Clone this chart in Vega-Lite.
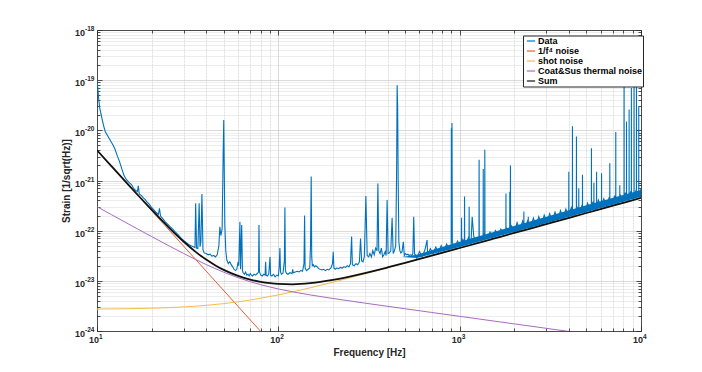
{
  "$schema": "https://vega.github.io/schema/vega-lite/v6.json",
  "width": 544,
  "height": 301,
  "autosize": {"type": "none"},
  "padding": {"left": 97, "top": 30, "right": 61, "bottom": 41},
  "background": "white",
  "config": {
    "view": {"stroke": null},
    "font": "Liberation Sans",
    "legend": {
      "orient": "none", "legendX": 426, "legendY": 5.5, "title": null,
      "fillColor": "white", "strokeColor": "#262626", "padding": 0.5,
      "symbolType": "stroke", "symbolSize": 67, "symbolStrokeWidth": 1.2, "symbolOffset": 2.5,
      "labelFontSize": 9, "labelFontWeight": "bold", "labelColor": "#000000",
      "rowPadding": 0, "labelOffset": 2, "cornerRadius": 0
    }
  },
  "datasets": {
    "band": [
      {"f":480,"lo":3.0e-23,"hi":3.0e-23},{"f":580,"lo":2.85e-23,"hi":3.3e-23},{"f":1000,"lo":4.74e-23,"hi":6.0e-23},{"f":2000,"lo":9.45e-23,"hi":1.24e-22},{"f":5000,"lo":2.36e-22,"hi":3.2e-22},{"f":10000,"lo":4.73e-22,"hi":6.5e-22}
    ],
    "data": [
      {"f":10,"v":9.5e-20},{"f":10.1,"v":7e-20},{"f":10.2,"v":4.5e-20},{"f":10.35,"v":2.8e-20},{"f":10.5,"v":2.2e-20},{"f":10.7,"v":1.6e-20},{"f":10.9,"v":1.2e-20},{"f":11.1,"v":9.5e-21},{"f":11.4,"v":8e-21},{"f":11.7,"v":6.8e-21},{"f":12,"v":5.8e-21},{"f":12.3,"v":5e-21},{"f":12.6,"v":4.1e-21},{"f":12.9,"v":3.2e-21},{"f":13.3,"v":2.4e-21},{"f":13.7,"v":1.7e-21},{"f":14.1,"v":1.25e-21},{"f":14.5,"v":1.05e-21},{"f":15,"v":9.2e-22},{"f":15.5,"v":8.3e-22},{"f":15.9,"v":7e-22},{"f":16.3,"v":6.4e-22},{"f":16.7,"v":6e-22},{"f":16.9,"v":7.8e-22},{"f":17.1,"v":5.4e-22},{"f":17.6,"v":5e-22},{"f":18,"v":4.5e-22},{"f":18.4,"v":4.2e-22},{"f":18.9,"v":3.7e-22},{"f":19.5,"v":3.3e-22},{"f":20,"v":2.9e-22},{"f":20.6,"v":2.6e-22},{"f":21.2,"v":2.3e-22},{"f":21.8,"v":2.1e-22},{"f":22.1,"v":2.8e-22},{"f":22.4,"v":1.95e-22},{"f":23,"v":1.75e-22},{"f":23.8,"v":1.5e-22},{"f":24.5,"v":1.35e-22},{"f":25.3,"v":1.2e-22},{"f":26,"v":1.1e-22},{"f":27,"v":9.5e-23},{"f":28,"v":8.3e-23},{"f":29,"v":7.2e-23},{"f":30,"v":6.4e-23},{"f":31,"v":5.8e-23},{"f":32,"v":5.3e-23},{"f":33,"v":5e-23},{"f":34,"v":4.8e-23},{"f":34.7,"v":4.6e-23},{"f":35,"v":3.5e-22},{"f":35.4,"v":4.5e-23},{"f":36,"v":4.4e-23},{"f":36.6,"v":3.5e-22},{"f":37,"v":4.8e-23},{"f":37.4,"v":6e-23},{"f":37.9,"v":5.4e-22},{"f":38.4,"v":4.2e-23},{"f":39,"v":3.6e-23},{"f":40,"v":3.5e-23},{"f":41,"v":3.3e-23},{"f":42,"v":3.4e-23},{"f":43,"v":3.1e-23},{"f":44,"v":3.2e-23},{"f":45,"v":3e-23},{"f":46,"v":3.3e-23},{"f":47,"v":5e-23},{"f":47.6,"v":1.2e-22},{"f":48.2,"v":8e-23},{"f":49,"v":1.1e-22},{"f":49.6,"v":3e-21},{"f":50,"v":1.6e-20},{"f":50.3,"v":2e-21},{"f":50.7,"v":1.3e-22},{"f":51.3,"v":4e-23},{"f":52,"v":2.6e-23},{"f":53,"v":2.2e-23},{"f":54,"v":2.4e-23},{"f":55,"v":2.1e-23},{"f":56,"v":1.9e-23},{"f":57,"v":1.7e-23},{"f":58,"v":1.6e-23},{"f":59,"v":1.7e-23},{"f":60,"v":2.4e-23},{"f":60.5,"v":2e-23},{"f":61.4,"v":1.5e-22},{"f":61.9,"v":1.7e-23},{"f":62.8,"v":1.3e-22},{"f":63.4,"v":1.6e-23},{"f":64,"v":1.45e-23},{"f":65,"v":1.35e-23},{"f":66,"v":1.5e-23},{"f":67,"v":1.3e-23},{"f":68,"v":1.35e-23},{"f":69,"v":1.25e-23},{"f":70,"v":1.4e-23},{"f":71,"v":1.3e-23},{"f":72,"v":1.25e-23},{"f":73.5,"v":1.35e-23},{"f":75,"v":1.3e-23},{"f":76.5,"v":1.4e-23},{"f":77.8,"v":1.5e-23},{"f":78.2,"v":1.3e-22},{"f":78.7,"v":1.5e-23},{"f":80,"v":1.3e-23},{"f":81.5,"v":1.25e-23},{"f":83,"v":1.35e-23},{"f":84.5,"v":1.3e-23},{"f":85.1,"v":2.4e-23},{"f":85.7,"v":1.3e-23},{"f":87,"v":1.25e-23},{"f":88.5,"v":1.35e-23},{"f":90,"v":3e-23},{"f":90.6,"v":1.3e-23},{"f":92,"v":1.25e-23},{"f":94,"v":1.35e-23},{"f":96,"v":1.2e-23},{"f":98,"v":1.3e-23},{"f":100,"v":1.25e-23},{"f":101.2,"v":2e-23},{"f":102,"v":4.5e-23},{"f":102.8,"v":1.5e-23},{"f":104,"v":1.35e-23},{"f":106,"v":1.4e-23},{"f":108,"v":2.5e-23},{"f":108.7,"v":2.9e-22},{"f":109.4,"v":1.6e-23},{"f":111,"v":1.4e-23},{"f":113,"v":1.35e-23},{"f":116,"v":1.45e-23},{"f":119,"v":1.4e-23},{"f":120,"v":1.7e-23},{"f":121,"v":1.45e-23},{"f":124,"v":1.5e-23},{"f":127,"v":1.55e-23},{"f":130,"v":1.5e-23},{"f":133,"v":1.6e-23},{"f":136,"v":1.55e-23},{"f":138.5,"v":2.2e-23},{"f":139.6,"v":2e-22},{"f":140.5,"v":1.8e-23},{"f":143,"v":1.6e-23},{"f":146,"v":1.7e-23},{"f":149,"v":1.8e-23},{"f":150.5,"v":5e-23},{"f":151.8,"v":1.2e-21},{"f":152.8,"v":3e-23},{"f":154,"v":2e-23},{"f":156,"v":2.1e-23},{"f":158,"v":1.9e-23},{"f":161,"v":2e-23},{"f":164,"v":1.9e-23},{"f":167,"v":1.75e-23},{"f":170,"v":1.7e-23},{"f":174,"v":1.65e-23},{"f":178,"v":1.7e-23},{"f":182,"v":1.6e-23},{"f":186,"v":1.7e-23},{"f":190,"v":1.65e-23},{"f":195,"v":1.8e-23},{"f":199,"v":2.2e-23},{"f":200.8,"v":3.8e-23},{"f":202.5,"v":1.8e-23},{"f":206,"v":1.7e-23},{"f":210,"v":1.8e-23},{"f":215,"v":1.75e-23},{"f":220,"v":1.85e-23},{"f":225,"v":1.8e-23},{"f":230,"v":1.9e-23},{"f":235,"v":1.85e-23},{"f":240,"v":2e-23},{"f":245,"v":1.9e-23},{"f":250,"v":2.2e-23},{"f":253.6,"v":7.6e-23},{"f":256,"v":2.1e-23},{"f":262,"v":2e-23},{"f":268,"v":2.2e-23},{"f":274,"v":2.1e-23},{"f":280,"v":2.4e-23},{"f":284,"v":7e-23},{"f":288,"v":2.5e-23},{"f":293,"v":2.4e-23},{"f":298,"v":3e-23},{"f":304,"v":4.9e-22},{"f":309,"v":3.2e-23},{"f":315,"v":3e-23},{"f":320,"v":3.5e-23},{"f":326,"v":3e-23},{"f":332,"v":4e-23},{"f":338,"v":3.3e-23},{"f":344,"v":4.5e-23},{"f":350,"v":4e-23},{"f":354,"v":8.7e-22},{"f":358,"v":4e-23},{"f":364,"v":3.5e-23},{"f":370,"v":4.5e-23},{"f":376,"v":3e-23},{"f":382,"v":3.3e-23},{"f":388,"v":3.8e-23},{"f":393,"v":3.2e-23},{"f":398,"v":4.1e-22},{"f":403,"v":3.5e-23},{"f":410,"v":3.6e-23},{"f":417,"v":4e-23},{"f":424,"v":1.8e-22},{"f":430,"v":3.5e-23},{"f":437,"v":4e-23},{"f":444,"v":5e-23},{"f":449,"v":1.5e-21},{"f":452,"v":7.9e-20},{"f":455,"v":3e-20},{"f":458,"v":1e-21},{"f":462,"v":6e-23},{"f":468,"v":4e-23},{"f":474,"v":3.6e-23},{"f":481,"v":3.8e-23},{"f":489,"v":6e-23},{"f":495,"v":3.2e-23},{"f":502,"v":3.5e-23},{"f":510,"v":3.3e-23},{"f":518,"v":3.4e-23},{"f":526,"v":3.2e-23},{"f":535,"v":3.3e-23},{"f":545,"v":3.2e-23},{"f":552,"v":3.5e-23},{"f":558,"v":1.9e-22},{"f":564,"v":3.4e-23},{"f":572,"v":3.3e-23},
      {"f":580,"v":2.82e-23},{"f":600,"v":3.83e-23},{"f":621,"v":3.02e-23},{"f":643,"v":4.11e-23},{"f":661,"v":6.5e-23},{"f":666,"v":3.24e-23},{"f":689,"v":4.4e-23},{"f":713,"v":3.47e-23},{"f":738,"v":4.72e-23},{"f":764,"v":3.71e-23},{"f":791,"v":5.05e-23},{"f":819,"v":3.98e-23},{"f":847,"v":5.41e-23},{"f":877,"v":4.26e-23},{"f":898,"v":4.85e-23},{"f":900,"v":1.1e-20},{"f":903,"v":2e-21},{"f":907,"v":1.4e-20},{"f":911,"v":5.8e-23},{"f":940,"v":4.57e-23},{"f":973,"v":6.22e-23},{"f":1007,"v":4.89e-23},{"f":1022,"v":5.5e-23},{"f":1024,"v":1.8e-22},{"f":1026,"v":5.5e-23},{"f":1042,"v":6.66e-23},{"f":1062,"v":5.7e-23},{"f":1064,"v":4.8e-22},{"f":1066,"v":5.7e-23},{"f":1079,"v":5.24e-23},{"f":1116,"v":7.13e-23},{"f":1126,"v":6.1e-23},{"f":1128,"v":3e-22},{"f":1130,"v":6.1e-23},{"f":1155,"v":5.61e-23},{"f":1172,"v":1.9e-22},{"f":1196,"v":7.64e-23},{"f":1238,"v":6.02e-23},{"f":1278,"v":6.9e-23},{"f":1280,"v":2.6e-21},{"f":1283,"v":6.9e-23},{"f":1326,"v":6.44e-23},{"f":1347,"v":7.3e-23},{"f":1349,"v":1.7e-21},{"f":1351,"v":7.3e-23},{"f":1372,"v":8.77e-23},{"f":1374,"v":7.4e-23},{"f":1376,"v":4.1e-21},{"f":1379,"v":7.4e-23},{"f":1420,"v":6.9e-23},{"f":1470,"v":9.39e-23},{"f":1522,"v":7.4e-23},{"f":1575,"v":1.007e-22},{"f":1630,"v":7.92e-23},{"f":1687,"v":1.078e-22},{"f":1746,"v":8.49e-23},{"f":1798,"v":9.7e-23},{"f":1800,"v":5.5e-22},{"f":1802,"v":9.7e-23},{"f":1807,"v":1.155e-22},{"f":1871,"v":9.09e-23},{"f":1888,"v":1.02e-22},{"f":1890,"v":6e-22},{"f":1892,"v":1.02e-22},{"f":1904,"v":1.03e-22},{"f":1906,"v":2e-21},{"f":1909,"v":1.03e-22},{"f":1936,"v":1.237e-22},{"f":2004,"v":9.47e-23},{"f":2074,"v":1.446e-22},{"f":2147,"v":1.014e-22},{"f":2222,"v":1.55e-22},{"f":2257,"v":1.22e-22},{"f":2260,"v":2.4e-22},{"f":2263,"v":1.22e-22},{"f":2300,"v":1.087e-22},{"f":2380,"v":1.66e-22},{"f":2387,"v":1.29e-22},{"f":2390,"v":1.9e-22},{"f":2393,"v":1.29e-22},{"f":2464,"v":1.164e-22},{"f":2550,"v":1.779e-22},{"f":2639,"v":1.247e-22},{"f":2731,"v":1.905e-22},{"f":2827,"v":1.336e-22},{"f":2926,"v":2.041e-22},{"f":3028,"v":1.431e-22},{"f":3134,"v":2.186e-22},{"f":3244,"v":1.533e-22},{"f":3357,"v":2.342e-22},{"f":3475,"v":1.642e-22},{"f":3596,"v":2.508e-22},{"f":3722,"v":1.759e-22},{"f":3853,"v":2.688e-22},{"f":3988,"v":1.885e-22},{"f":3995,"v":2.16e-22},{"f":3999,"v":1.5e-21},{"f":4003,"v":2.16e-22},{"f":4127,"v":2.878e-22},{"f":4184,"v":2.26e-22},{"f":4188,"v":1.2e-20},{"f":4192,"v":2.26e-22},{"f":4272,"v":2.018e-22},{"f":4402,"v":2.38e-22},{"f":4406,"v":7.5e-21},{"f":4410,"v":2.38e-22},{"f":4421,"v":3.083e-22},{"f":4534,"v":2.45e-22},{"f":4538,"v":7e-22},{"f":4542,"v":2.45e-22},{"f":4576,"v":2.162e-22},{"f":4736,"v":3.303e-22},{"f":4753,"v":2.57e-22},{"f":4757,"v":1.3e-21},{"f":4761,"v":2.57e-22},{"f":4902,"v":2.316e-22},{"f":5073,"v":3.539e-22},{"f":5251,"v":2.481e-22},{"f":5325,"v":2.88e-22},{"f":5329,"v":4.4e-21},{"f":5333,"v":2.88e-22},{"f":5435,"v":3.791e-22},{"f":5496,"v":2.97e-22},{"f":5500,"v":9e-22},{"f":5504,"v":2.97e-22},{"f":5625,"v":2.658e-22},{"f":5686,"v":3.07e-22},{"f":5690,"v":1.5e-21},{"f":5694,"v":3.07e-22},{"f":5822,"v":4.061e-22},{"f":6025,"v":2.847e-22},{"f":6056,"v":3.27e-22},{"f":6060,"v":1.4e-21},{"f":6064,"v":3.27e-22},{"f":6236,"v":4.349e-22},{"f":6454,"v":3.049e-22},{"f":6680,"v":4.659e-22},{"f":6726,"v":3.63e-22},{"f":6730,"v":2.2e-21},{"f":6734,"v":3.63e-22},{"f":6914,"v":3.267e-22},{"f":7156,"v":4.991e-22},{"f":7255,"v":3.92e-22},{"f":7260,"v":9.3e-21},{"f":7265,"v":3.92e-22},{"f":7407,"v":3.5e-22},{"f":7635,"v":4.13e-22},{"f":7640,"v":8e-22},{"f":7645,"v":4.13e-22},{"f":7666,"v":5.348e-22},{"f":7934,"v":3.749e-22},{"f":8065,"v":4.36e-22},{"f":8070,"v":1.6e-19},{"f":8075,"v":4.36e-22},{"f":8212,"v":5.727e-22},{"f":8315,"v":4.49e-22},{"f":8320,"v":1.5e-20},{"f":8325,"v":4.49e-22},{"f":8499,"v":4.016e-22},{"f":8595,"v":4.64e-22},{"f":8600,"v":2.6e-20},{"f":8605,"v":4.64e-22},{"f":8797,"v":6.136e-22},{"f":8845,"v":4.78e-22},{"f":8850,"v":7e-20},{"f":8855,"v":4.78e-22},{"f":9105,"v":4.302e-22},{"f":9155,"v":4.95e-22},{"f":9160,"v":1.2e-19},{"f":9165,"v":4.95e-22},{"f":9423,"v":6.572e-22},{"f":9435,"v":5.1e-22},{"f":9440,"v":1.1e-19},{"f":9445,"v":5.1e-22},{"f":9715,"v":5.25e-22},{"f":9720,"v":3e-20},{"f":9725,"v":5.25e-22},{"f":9753,"v":4.608e-22},{"f":10000,"v":6.975e-22}
    ],
    "f4": [
      {"f":10,"v":4e-21},{"f":20,"v":2.5e-22},{"f":40,"v":1.5625e-23},{"f":60,"v":3.086e-24},{"f":80,"v":9.77e-25},{"f":100,"v":4e-25}
    ],
    "shot": [
      {"f":10,"v":2.737e-24},{"f":15,"v":2.783e-24},{"f":20,"v":2.846e-24},{"f":25,"v":2.925e-24},{"f":30,"v":3.019e-24},{"f":40,"v":3.245e-24},{"f":50,"v":3.515e-24},{"f":60,"v":3.818e-24},{"f":70,"v":4.149e-24},{"f":80,"v":4.5e-24},{"f":100,"v":5.248e-24},{"f":120,"v":6.037e-24},{"f":150,"v":7.27e-24},{"f":200,"v":9.397e-24},{"f":300,"v":1.377e-23},{"f":500,"v":2.266e-23},{"f":700,"v":3.161e-23},{"f":1000,"v":4.508e-23},{"f":2000,"v":9.005e-23},{"f":5000,"v":2.25e-22},{"f":10000,"v":4.5e-22}
    ],
    "therm": [
      {"f":10,"v":3.006e-22},{"f":12,"v":2.091e-22},{"f":15,"v":1.343e-22},{"f":20,"v":7.627e-23},{"f":25,"v":4.958e-23},{"f":30,"v":3.52e-23},{"f":40,"v":2.116e-23},{"f":50,"v":1.486e-23},{"f":60,"v":1.156e-23},{"f":70,"v":9.61e-24},{"f":80,"v":8.37e-24},{"f":100,"v":6.888e-24},{"f":150,"v":5.235e-24},{"f":200,"v":4.448e-24},{"f":300,"v":3.595e-24},{"f":500,"v":2.776e-24},{"f":700,"v":2.343e-24},{"f":1000,"v":1.961e-24},{"f":2000,"v":1.386e-24},{"f":3000,"v":1.132e-24},{"f":4000,"v":9.8e-25},{"f":5000,"v":8.77e-25}
    ],
    "sum": [
      {"f":10,"v":4.011e-21},{"f":12,"v":1.94e-21},{"f":15,"v":8.013e-22},{"f":17.5,"v":4.378e-22},{"f":20,"v":2.614e-22},{"f":25,"v":1.138e-22},{"f":30,"v":6.073e-23},{"f":35,"v":3.78e-23},{"f":40,"v":2.65e-23},{"f":45,"v":2.03e-23},{"f":50,"v":1.654e-23},{"f":60,"v":1.256e-23},{"f":70,"v":1.06e-23},{"f":80,"v":9.55e-24},{"f":90,"v":8.97e-24},{"f":100,"v":8.67e-24},{"f":120,"v":8.53e-24},{"f":150,"v":8.96e-24},{"f":200,"v":1.04e-23},{"f":300,"v":1.423e-23},{"f":400,"v":1.846e-23},{"f":500,"v":2.283e-23},{"f":700,"v":3.17e-23},{"f":1000,"v":4.512e-23},{"f":1500,"v":6.757e-23},{"f":2000,"v":9.006e-23},{"f":3000,"v":1.35e-22},{"f":5000,"v":2.25e-22},{"f":7000,"v":3.15e-22},{"f":10000,"v":4.5e-22}
    ]
  },
  "resolve": {"axis": {"x": "independent", "y": "independent"}},
  "layer": [
    {
      "data": {"name": "band"},
      "mark": {"type": "area", "clip": true, "color": "#0072BD"},
      "encoding": {
        "x": {"field": "f", "type": "quantitative", "axis": null},
        "y": {"field": "lo", "type": "quantitative", "axis": null},
        "y2": {"field": "hi"}
      }
    },
    {
      "data": {"name": "data"},
      "mark": {"type": "line", "clip": true, "strokeWidth": 1.1},
      "encoding": {
        "x": {"field": "f", "type": "quantitative",
          "scale": {"type": "log", "domain": [10, 10000], "nice": false},
          "axis": {"orient": "bottom",
            "tickValues": [10,20,30,40,50,60,70,80,90,100,200,300,400,500,600,700,800,900,1000,2000,3000,4000,5000,6000,7000,8000,9000,10000],
            "labelExpr": "abs(log(datum.value)/LN10 - round(log(datum.value)/LN10)) < 0.01 ? '10' : ''",
            "ticks": false, "tickSize": 0, "grid": true,
            "gridColor": {"condition": {"test": "abs(log(datum.value)/LN10 - round(log(datum.value)/LN10)) < 0.01", "value": "#cacaca"}, "value": "#d2d2d2"},
            "gridDash": {"condition": {"test": "abs(log(datum.value)/LN10 - round(log(datum.value)/LN10)) < 0.01", "value": []}, "value": [2, 1]},
            "gridWidth": 0.7,
            "domainColor": "#262626", "domainWidth": 0.8,
            "labelFontSize": 9, "labelFontWeight": "bold", "labelColor": "#262626",
            "labelAlign": "center", "labelOffset": -3.5,
            "labelPadding": 4, "labelFlush": false, "labelOverlap": false, "labelBound": false,
            "title": "Frequency [Hz]", "titleFontSize": 10, "titleFontWeight": "bold", "titleColor": "#262626", "titlePadding": 3}},
        "y": {"field": "v", "type": "quantitative",
          "scale": {"type": "log", "domain": [1e-24, 1e-18], "nice": false},
          "axis": {"orient": "left",
            "tickValues": [1e-24,2e-24,3e-24,4e-24,5e-24,6e-24,7e-24,8e-24,9e-24,1e-23,2e-23,3e-23,4e-23,5e-23,6e-23,7e-23,8e-23,9e-23,1e-22,2e-22,3e-22,4e-22,5e-22,6e-22,7e-22,8e-22,9e-22,1e-21,2e-21,3e-21,4e-21,5e-21,6e-21,7e-21,8e-21,9e-21,1e-20,2e-20,3e-20,4e-20,5e-20,6e-20,7e-20,8e-20,9e-20,1e-19,2e-19,3e-19,4e-19,5e-19,6e-19,7e-19,8e-19,9e-19,1e-18],
            "labelExpr": "abs(log(datum.value)/LN10 - round(log(datum.value)/LN10)) < 0.01 ? '10' : ''",
            "ticks": false, "tickSize": 0, "grid": true,
            "gridColor": {"condition": {"test": "abs(log(datum.value)/LN10 - round(log(datum.value)/LN10)) < 0.01", "value": "#cacaca"}, "value": "#cccccc"},
            "gridDash": {"condition": {"test": "abs(log(datum.value)/LN10 - round(log(datum.value)/LN10)) < 0.01", "value": []}, "value": [1, 1]},
            "gridWidth": 0.7,
            "domainColor": "#262626", "domainWidth": 0.8,
            "labelFontSize": 9, "labelFontWeight": "bold", "labelColor": "#262626",
            "labelOffset": 2.5,
            "labelPadding": 12.5, "labelFlush": false, "labelOverlap": false, "labelBound": false,
            "title": "Strain [1/sqrt(Hz)]", "titleFontSize": 10, "titleFontWeight": "bold", "titleColor": "#262626", "titlePadding": 3}},
        "color": {"datum": "Data", "type": "nominal",
          "scale": {"domain": ["Data", "1/f⁴ noise", "shot noise", "Coat&Sus thermal noise", "Sum"],
                    "range": ["#0072BD", "#E0603A", "#F0BE4A", "#A86BC0", "#111111"]}}
      }
    },
    {
      "data": {"name": "f4"},
      "mark": {"type": "line", "clip": true, "strokeWidth": 1},
      "encoding": {
        "x": {"field": "f", "type": "quantitative",
          "axis": {"orient": "bottom",
            "tickValues": [10,20,30,40,50,60,70,80,90,100,200,300,400,500,600,700,800,900,1000,2000,3000,4000,5000,6000,7000,8000,9000,10000],
            "labels": false, "grid": false, "domain": false, "ticks": true,
            "tickSize": {"condition": {"test": "abs(log(datum.value)/LN10 - round(log(datum.value)/LN10)) < 0.01", "value": -5}, "value": -3},
            "tickColor": "#262626", "tickWidth": 0.8, "title": null}},
        "y": {"field": "v", "type": "quantitative",
          "axis": {"orient": "left",
            "tickValues": [1e-24,2e-24,3e-24,4e-24,5e-24,6e-24,7e-24,8e-24,9e-24,1e-23,2e-23,3e-23,4e-23,5e-23,6e-23,7e-23,8e-23,9e-23,1e-22,2e-22,3e-22,4e-22,5e-22,6e-22,7e-22,8e-22,9e-22,1e-21,2e-21,3e-21,4e-21,5e-21,6e-21,7e-21,8e-21,9e-21,1e-20,2e-20,3e-20,4e-20,5e-20,6e-20,7e-20,8e-20,9e-20,1e-19,2e-19,3e-19,4e-19,5e-19,6e-19,7e-19,8e-19,9e-19,1e-18],
            "labels": false, "grid": false, "domain": false, "ticks": true,
            "tickSize": {"condition": {"test": "abs(log(datum.value)/LN10 - round(log(datum.value)/LN10)) < 0.01", "value": -5}, "value": -3},
            "tickColor": "#262626", "tickWidth": 0.8, "title": null}},
        "color": {"datum": "1/f⁴ noise", "type": "nominal"}
      }
    },
    {
      "data": {"name": "shot"},
      "mark": {"type": "line", "clip": true, "strokeWidth": 1, "interpolate": "monotone"},
      "encoding": {
        "x": {"field": "f", "type": "quantitative",
          "axis": {"orient": "top",
            "tickValues": [10,20,30,40,50,60,70,80,90,100,200,300,400,500,600,700,800,900,1000,2000,3000,4000,5000,6000,7000,8000,9000,10000],
            "labels": false, "grid": false, "domain": true, "domainColor": "#262626", "domainWidth": 0.8, "ticks": true,
            "tickSize": {"condition": {"test": "abs(log(datum.value)/LN10 - round(log(datum.value)/LN10)) < 0.01", "value": -5}, "value": -3},
            "tickColor": "#262626", "tickWidth": 0.8, "title": null}},
        "y": {"field": "v", "type": "quantitative",
          "axis": {"orient": "right",
            "tickValues": [1e-24,2e-24,3e-24,4e-24,5e-24,6e-24,7e-24,8e-24,9e-24,1e-23,2e-23,3e-23,4e-23,5e-23,6e-23,7e-23,8e-23,9e-23,1e-22,2e-22,3e-22,4e-22,5e-22,6e-22,7e-22,8e-22,9e-22,1e-21,2e-21,3e-21,4e-21,5e-21,6e-21,7e-21,8e-21,9e-21,1e-20,2e-20,3e-20,4e-20,5e-20,6e-20,7e-20,8e-20,9e-20,1e-19,2e-19,3e-19,4e-19,5e-19,6e-19,7e-19,8e-19,9e-19,1e-18],
            "labels": false, "grid": false, "domain": true, "domainColor": "#262626", "domainWidth": 0.8, "ticks": true,
            "tickSize": {"condition": {"test": "abs(log(datum.value)/LN10 - round(log(datum.value)/LN10)) < 0.01", "value": -5}, "value": -3},
            "tickColor": "#262626", "tickWidth": 0.8, "title": null}},
        "color": {"datum": "shot noise", "type": "nominal"}
      }
    },
    {
      "data": {"name": "therm"},
      "mark": {"type": "line", "clip": true, "strokeWidth": 1, "interpolate": "monotone"},
      "encoding": {
        "x": {"field": "f", "type": "quantitative",
          "axis": {"orient": "bottom",
            "tickValues": [10,20,30,40,50,60,70,80,90,100,200,300,400,500,600,700,800,900,1000,2000,3000,4000,5000,6000,7000,8000,9000,10000],
            "labelExpr": "abs(log(datum.value)/LN10 - round(log(datum.value)/LN10)) < 0.01 ? '' + round(log(datum.value)/LN10) : ''",
            "grid": false, "domain": false, "ticks": false, "tickSize": 0,
            "labelFontSize": 6.5, "labelFontWeight": "bold", "labelColor": "#262626",
            "labelAlign": "left", "labelOffset": 1.5, "labelPadding": 2,
            "labelFlush": false, "labelOverlap": false, "labelBound": false, "title": null}},
        "y": {"field": "v", "type": "quantitative",
          "axis": {"orient": "left",
            "tickValues": [1e-24,2e-24,3e-24,4e-24,5e-24,6e-24,7e-24,8e-24,9e-24,1e-23,2e-23,3e-23,4e-23,5e-23,6e-23,7e-23,8e-23,9e-23,1e-22,2e-22,3e-22,4e-22,5e-22,6e-22,7e-22,8e-22,9e-22,1e-21,2e-21,3e-21,4e-21,5e-21,6e-21,7e-21,8e-21,9e-21,1e-20,2e-20,3e-20,4e-20,5e-20,6e-20,7e-20,8e-20,9e-20,1e-19,2e-19,3e-19,4e-19,5e-19,6e-19,7e-19,8e-19,9e-19,1e-18],
            "labelExpr": "abs(log(datum.value)/LN10 - round(log(datum.value)/LN10)) < 0.01 ? '' + round(log(datum.value)/LN10) : ''",
            "grid": false, "domain": false, "ticks": false, "tickSize": 0,
            "labelFontSize": 6.5, "labelFontWeight": "bold", "labelColor": "#262626",
            "labelOffset": -1.5, "labelPadding": 3,
            "labelFlush": false, "labelOverlap": false, "labelBound": false, "title": null}},
        "color": {"datum": "Coat&Sus thermal noise", "type": "nominal"}
      }
    },
    {
      "data": {"name": "sum"},
      "mark": {"type": "line", "clip": true, "strokeWidth": 1.8, "interpolate": "monotone"},
      "encoding": {
        "x": {"field": "f", "type": "quantitative", "axis": null},
        "y": {"field": "v", "type": "quantitative", "axis": null},
        "color": {"datum": "Sum", "type": "nominal"}
      }
    }
  ]
}
